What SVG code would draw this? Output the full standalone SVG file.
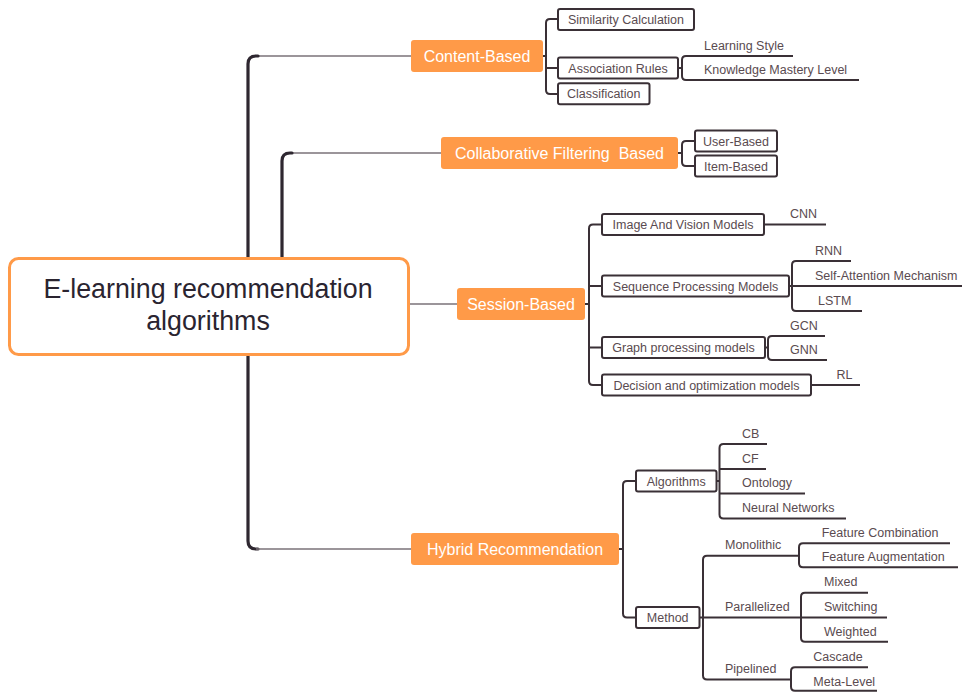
<svg xmlns="http://www.w3.org/2000/svg" width="962" height="692" viewBox="0 0 962 692">
<style>
.thick{fill:none;stroke:#2e2730;stroke-width:3.2;stroke-linecap:round}
.thin{fill:none;stroke:#7a7278;stroke-width:1.6}
.br{fill:none;stroke:#3a3036;stroke-width:2}
.main rect{fill:#ff9a48;stroke:none}
.main text{fill:#ffffff;font-family:"Liberation Sans",Arial,sans-serif;font-size:16px;text-anchor:middle}
.sub rect{fill:#ffffff;stroke:#3a3036;stroke-width:2}
.sub text{fill:#5a4b50;font-family:"Liberation Sans",Arial,sans-serif;font-size:12.5px;text-anchor:middle}
.leaf{fill:#5a4b50;font-family:"Liberation Sans",Arial,sans-serif;font-size:12.5px}
</style>
<rect width="962" height="692" fill="#ffffff"/>
<g id="connectors">
  <path class="thin" d="M256,56 H411"/>
  <path class="thick" d="M258,56 H256 Q248,56 248,64 V541 Q248,549 256,549 H258"/>
  <path class="thin" d="M256,549 H411"/>
  <path class="thin" d="M290,153 H441"/>
  <path class="thick" d="M292,153 H290 Q282,153 282,161 V258"/>
  <path class="thin" d="M409,304 H457"/>
  <!-- Content-Based -->
  <path class="br" d="M543,56 H546 M558,19 H550 Q546,19 546,23 V90 Q546,94 550,94 H558 M546,68 H558"/>
  <path class="br" d="M678,68 H682 M793,56 H686 Q682,56 682,60 V76 Q682,80 686,80 H859"/>
  <!-- CF -->
  <path class="br" d="M678,153 H682 M695,141 H686 Q682,141 682,145 V162 Q682,166 686,166 H695"/>
  <!-- Session -->
  <path class="br" d="M585,304 H589 M602,224.5 H593 Q589,224.5 589,228.5 V381 Q589,385 593,385 H602 M589,286 H602 M589,347.5 H602"/>
  <path class="br" d="M764,224.5 H826"/>
  <path class="br" d="M789,286 H962 M851,261 H796 Q792,261 792,265 V307 Q792,311 796,311 H862"/>
  <path class="br" d="M765,347.5 H768 M825,336 H772 Q768,336 768,340 V356 Q768,360 772,360 H827"/>
  <path class="br" d="M811,385 H860"/>
  <!-- Hybrid -->
  <path class="br" d="M619,549 H623 M636,481 H627 Q623,481 623,485 V613.5 Q623,617.5 627,617.5 H636"/>
  <path class="br" d="M717,481 H719.5 M767,444 H723.5 Q719.5,444 719.5,448 V514.5 Q719.5,518.5 723.5,518.5 H846 M719.5,469 H766 M719.5,493.5 H805"/>
  <path class="br" d="M699.5,617.5 H887 M799,555.7 H707 Q703,555.7 703,559.7 V675.5 Q703,679.5 707,679.5 H791"/>
  <path class="br" d="M950,543.3 H803 Q799,543.3 799,547.3 V563.3 Q799,567.3 803,567.3 H958"/>
  <path class="br" d="M868,592.7 H805 Q801,592.7 801,596.7 V637.7 Q801,641.7 805,641.7 H888"/>
  <path class="br" d="M868,667.3 H795 Q791,667.3 791,671.3 V686.7 Q791,690.7 795,690.7 H877"/>
</g>
<g id="root">
  <rect x="9.5" y="258.5" width="399" height="96" rx="9" fill="#ffffff" stroke="#ff9a48" stroke-width="3"/>
  <text x="208" y="298" font-family="'Liberation Sans',Arial,sans-serif" font-size="26.8" fill="#2a2430" text-anchor="middle">E-learning recommendation</text>
  <text x="208" y="330" font-family="'Liberation Sans',Arial,sans-serif" font-size="26.8" fill="#2a2430" text-anchor="middle">algorithms</text>
</g>
<g id="content-based" class="main"><rect x="411" y="40" width="132" height="32" rx="3"/><text x="477" y="61.7">Content-Based</text></g>
<g id="cf-based" class="main"><rect x="441" y="137" width="237" height="32" rx="3"/><text x="559.5" y="158.7" xml:space="preserve">Collaborative Filtering  Based</text></g>
<g id="session-based" class="main"><rect x="457" y="288" width="128" height="32" rx="3"/><text x="521" y="309.7">Session-Based</text></g>
<g id="hybrid" class="main"><rect x="411" y="533" width="208" height="32" rx="3"/><text x="515" y="554.7">Hybrid Recommendation</text></g>
<g id="similarity" class="sub"><rect x="558" y="9" width="136" height="21" rx="2"/><text x="626" y="24">Similarity Calculation</text></g>
<g id="association" class="sub"><rect x="558" y="57.5" width="120" height="21" rx="2"/><text x="618" y="72.5">Association Rules</text></g>
<g id="classification" class="sub"><rect x="558" y="83.2" width="91.5" height="21" rx="2"/><text x="603.7" y="98.2">Classification</text></g>
<g id="learning-style"><text class="leaf" x="704" y="49.5">Learning Style</text></g>
<g id="knowledge"><text class="leaf" x="704" y="73.5">Knowledge Mastery Level</text></g>
<g id="user-based" class="sub"><rect x="695" y="130.5" width="82" height="21" rx="2"/><text x="736" y="145.5">User-Based</text></g>
<g id="item-based" class="sub"><rect x="695" y="155.5" width="82" height="21" rx="2"/><text x="736" y="170.5">Item-Based</text></g>
<g id="image-vision" class="sub"><rect x="602" y="214" width="162" height="21" rx="2"/><text x="683" y="229">Image And Vision Models</text></g>
<g id="sequence" class="sub"><rect x="602" y="275.5" width="187" height="21" rx="2"/><text x="695.5" y="290.5">Sequence Processing Models</text></g>
<g id="graph" class="sub"><rect x="602" y="337" width="163" height="21" rx="2"/><text x="683.5" y="352">Graph processing models</text></g>
<g id="decision" class="sub"><rect x="602" y="374.5" width="209" height="21" rx="2"/><text x="706.5" y="389.5">Decision and optimization models</text></g>
<g id="cnn"><text class="leaf" x="790" y="218">CNN</text></g>
<g id="rnn"><text class="leaf" x="815" y="254.5">RNN</text></g>
<g id="self-attention"><text class="leaf" x="815" y="279.5">Self-Attention Mechanism</text></g>
<g id="lstm"><text class="leaf" x="818" y="304.5">LSTM</text></g>
<g id="gcn"><text class="leaf" x="790" y="329.5">GCN</text></g>
<g id="gnn"><text class="leaf" x="790" y="353.5">GNN</text></g>
<g id="rl"><text class="leaf" x="836.5" y="378.5">RL</text></g>
<g id="algorithms" class="sub"><rect x="636" y="470.5" width="80.5" height="21" rx="2"/><text x="676.2" y="485.5">Algorithms</text></g>
<g id="method" class="sub"><rect x="636" y="607" width="63.5" height="21" rx="2"/><text x="667.7" y="622">Method</text></g>
<g id="cb"><text class="leaf" x="742" y="437.5">CB</text></g>
<g id="cf"><text class="leaf" x="742" y="462.5">CF</text></g>
<g id="ontology"><text class="leaf" x="742" y="487">Ontology</text></g>
<g id="neural"><text class="leaf" x="742" y="512">Neural Networks</text></g>
<g id="monolithic"><text class="leaf" x="725" y="549.3">Monolithic</text></g>
<g id="feature-comb"><text class="leaf" x="821.7" y="537">Feature Combination</text></g>
<g id="feature-aug"><text class="leaf" x="821.7" y="561">Feature Augmentation</text></g>
<g id="parallelized"><text class="leaf" x="725" y="611">Parallelized</text></g>
<g id="mixed"><text class="leaf" x="824" y="586.3">Mixed</text></g>
<g id="switching"><text class="leaf" x="824" y="611">Switching</text></g>
<g id="weighted"><text class="leaf" x="824" y="635.5">Weighted</text></g>
<g id="pipelined"><text class="leaf" x="725" y="673">Pipelined</text></g>
<g id="cascade"><text class="leaf" x="813.3" y="661">Cascade</text></g>
<g id="meta-level"><text class="leaf" x="813.3" y="685.5">Meta-Level</text></g>
</svg>
